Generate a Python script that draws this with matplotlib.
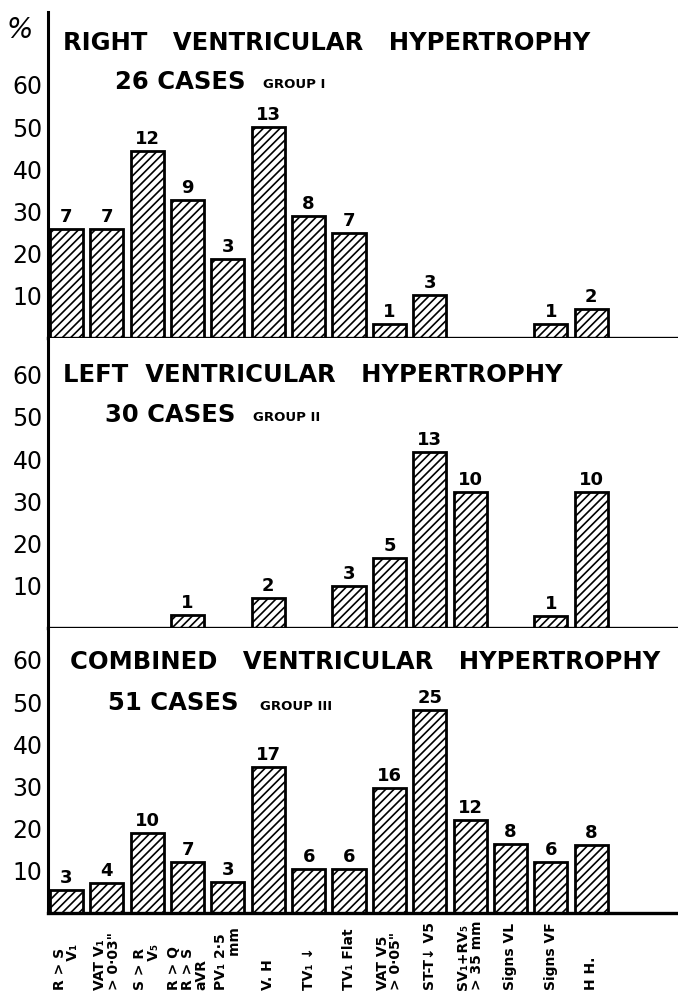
import matplotlib
matplotlib.use("Agg")
import matplotlib.pyplot as plt
import matplotlib.transforms as mtransforms

plt.rcParams["font.family"] = ["DejaVu Sans"]
plt.rcParams["hatch.linewidth"] = 1.2

criteria = ["R > S\n      V₁", "VAT V₁\n> 0·03\"", "S > R\n      V₅", "R > Q\nR > S\naVR",
            "PV₁ 2·5\n       mm", "V. H", "TV₁ ↓", "TV₁ Flat", "VAT V5\n> 0·05\"", "ST-T↓ V5",
            "SV₁+RV₅\n> 35 mm", "Signs VL", "Signs VF", "H H."]

# % of cases (bar heights as drawn) and number of cases (labels on top)
pct_rvh = [25.8, 25.8, 44.3, 32.7, 18.7, 50.0, 28.9, 24.9, 3.3, 10.2, 0, 0, 3.3, 6.9]
n_rvh = [7, 7, 12, 9, 3, 13, 8, 7, 1, 3, 0, 0, 1, 2]
pct_lvh = [0, 0, 0, 3.1, 0, 7.1, 0, 10.0, 16.6, 41.7, 32.2, 0, 2.8, 32.2]
n_lvh = [0, 0, 0, 1, 0, 2, 0, 3, 5, 13, 10, 0, 1, 10]
pct_cvh = [5.5, 7.1, 19.0, 12.1, 7.3, 34.6, 10.4, 10.4, 29.6, 48.1, 22.0, 16.4, 12.1, 16.1]
n_cvh = [3, 4, 10, 7, 3, 17, 6, 6, 16, 25, 12, 8, 6, 8]

panels = [
    ("RIGHT   VENTRICULAR   HYPERTROPHY", "26 CASES", "GROUP I", pct_rvh, n_rvh),
    ("LEFT  VENTRICULAR   HYPERTROPHY", "30 CASES", "GROUP II", pct_lvh, n_lvh),
    ("COMBINED   VENTRICULAR   HYPERTROPHY", "51 CASES", "GROUP III", pct_cvh, n_cvh),
]

W, H = 678, 994
fig = plt.figure(figsize=(W / 100, H / 100), dpi=100)


def fx(x):
    return x / W


def fy(y):
    return 1 - y / H


# panel extents in pixels (top, bottom), and where the text sits
extents = [(12, 338), (338, 628), (628, 913)]
title_pos = [((63, 50), (115, 89), (263, 88)),
             ((63, 382), (105, 422), (253, 421)),
             ((70, 669), (108, 710), (260, 710))]
px_per_pct = 4.22
x = list(range(len(criteria)))

axes = []
for (top, bot), (title, cases, group, pct, n), tp in zip(extents, panels, title_pos):
    ax = fig.add_axes([fx(48), fy(bot), fx(678) - fx(48), (bot - top) / H])
    ax.set_xlim(-0.458, 15.15)
    ax.set_ylim(0, (bot - top) / px_per_pct)
    xs = [xi for xi, p in zip(x, pct) if p > 0]
    ps = [p for p in pct if p > 0]
    ns = [c for c, p in zip(n, pct) if p > 0]
    ax.bar(xs, ps, width=0.82, color="white", edgecolor="black",
           linewidth=2, hatch="////")
    for xi, p, c in zip(xs, ps, ns):
        ax.annotate(str(c), (xi, p), xytext=(0, 2), textcoords="offset points",
                    ha="center", va="bottom", fontsize=13, fontweight="bold")
    for s in ["top", "right"]:
        ax.spines[s].set_visible(False)
    ax.spines["left"].set_linewidth(2.2)
    ax.spines["bottom"].set_linewidth(2.4)
    ax.set_yticks([10, 20, 30, 40, 50, 60])
    ax.set_yticklabels(["10", "20", "30", "40", "50", "60"], fontsize=17)
    ax.tick_params(axis="y", length=0, pad=4)
    ax.set_xticks([])
    fig.text(fx(tp[0][0]), fy(tp[0][1]), title, fontsize=17.5, fontweight="bold",
             va="baseline", clip_on=False)
    fig.text(fx(tp[1][0]), fy(tp[1][1]), cases, fontsize=17.5, fontweight="bold", va="baseline")
    fig.text(fx(tp[2][0]), fy(tp[2][1]), group, fontsize=9.5, fontweight="bold", va="baseline")
    axes.append(ax)

fig.text(fx(20), fy(30), "%", fontsize=20, ha="center", va="center", style="italic")

trans = mtransforms.blended_transform_factory(axes[2].transData, fig.transFigure)
for xi, lab in zip(x, criteria):
    axes[2].text(xi, fy(990), lab, transform=trans, rotation=90, rotation_mode="anchor",
                 ha="left", va="center", fontsize=10, fontweight="bold",
                 linespacing=0.95, multialignment="left")

fig.savefig("out.png", dpi=100)
